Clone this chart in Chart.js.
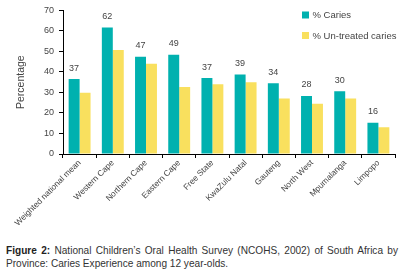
<!DOCTYPE html>
<html><head><meta charset="utf-8">
<script src="https://cdn.jsdelivr.net/npm/chart.js@4/dist/chart.umd.min.js"></script>
<style>
html,body{margin:0;padding:0;background:#fff;width:411px;height:276px;overflow:hidden;}
#wrap{position:absolute;left:0;top:0;width:411px;height:242px;}
#cap{position:absolute;left:6px;top:245px;width:392px;font-family:"Liberation Sans",Arial,sans-serif;font-size:10.1px;line-height:12.5px;color:#333;text-align:justify;text-align-last:left;}
#cap b{font-weight:bold;color:#222;}
</style></head>
<body>
<div id="wrap"><canvas id="c" width="411" height="242"></canvas></div>
<div id="cap"><b>Figure 2:</b> National Children’s Oral Health Survey (NCOHS, 2002) of South Africa by Province: Caries Experience among 12 year-olds.</div>
<script>
const categories = ["Weighted national mean","Western Cape","Northern Cape","Eastern Cape","Free State","KwaZulu Natal","Gauteng","North West","Mpumalanga","Limpopo"];
const caries = [36.5, 61.7, 47.4, 48.4, 37, 38.8, 34.5, 28.3, 30.6, 15.2];
const cariesLabels = ["37","62","47","49","37","39","34","28","30","16"];
const untreated = [29.8, 50.7, 44, 32.6, 34, 35, 27, 24.5, 27, 13];
const yTicks = [0,10,20,30,40,50,60,70];
const seriesNames = ["% Caries","% Un-treated caries"];
const colors = ["#00B1AF","#F9E05E"];
const FONT = "Liberation Sans";
const TXT = "#444";

const labelPlugin = {
  id:'lbl',
  afterDatasetsDraw(chart){
    const ctx = chart.ctx;
    const meta = chart.getDatasetMeta(0);
    ctx.save();
    ctx.font = "9px '"+FONT+"'";
    ctx.fillStyle = TXT;
    ctx.textAlign = 'center';
    ctx.textBaseline = 'middle';
    meta.data.forEach((bar,i)=>{
      ctx.fillText(cariesLabels[i], bar.x, bar.y - 11);
    });
    chart.data.datasets.forEach((ds,i)=>{
      const y = 15 + i*20.5;
      ctx.fillStyle = ds.backgroundColor;
      ctx.fillRect(302, y-3.5, 7, 7);
      ctx.fillStyle = TXT;
      ctx.textAlign = 'left';
      ctx.font = "9.5px '"+FONT+"'";
      ctx.fillText(ds.label, 312.5, y+0.5);
    });
    ctx.restore();
  }
};

new Chart(document.getElementById('c'), {
  type:'bar',
  data:{
    labels: categories,
    datasets:[
      {label:seriesNames[0], data:caries, backgroundColor:colors[0], barPercentage:1, categoryPercentage:0.66},
      {label:seriesNames[1], data:untreated, backgroundColor:colors[1], barPercentage:1, categoryPercentage:0.66}
    ]
  },
  options:{
    responsive:false, animation:false,
    layout:{padding:{top:6,right:16,left:0,bottom:0}},
    plugins:{legend:{display:false}, tooltip:{enabled:false}},
    scales:{
      x:{
        grid:{display:true, drawOnChartArea:false, drawTicks:true, tickLength:4, color:'#000', offset:true},
        border:{display:true, color:'#000', width:1},
        ticks:{color:TXT, font:{family:FONT, size:8.3}, maxRotation:45, minRotation:45, padding:0, autoSkip:false},
        afterFit(s){ s.height = 88; }
      },
      y:{
        min:0, max:70,
        afterBuildTicks(s){ s.ticks = yTicks.map(v=>({value:v})); },
        grid:{display:true, drawOnChartArea:false, drawTicks:true, tickLength:4, color:'#000'},
        border:{display:true, color:'#000', width:1},
        ticks:{color:TXT, font:{family:FONT, size:9}, padding:5},
        title:{display:true, text:'Percentage', color:TXT, font:{family:FONT, size:10.5}, padding:{top:15,bottom:0}},
        afterFit(s){ s.width = 63; }
      }
    }
  },
  plugins:[labelPlugin]
});
</script>
</body></html>
